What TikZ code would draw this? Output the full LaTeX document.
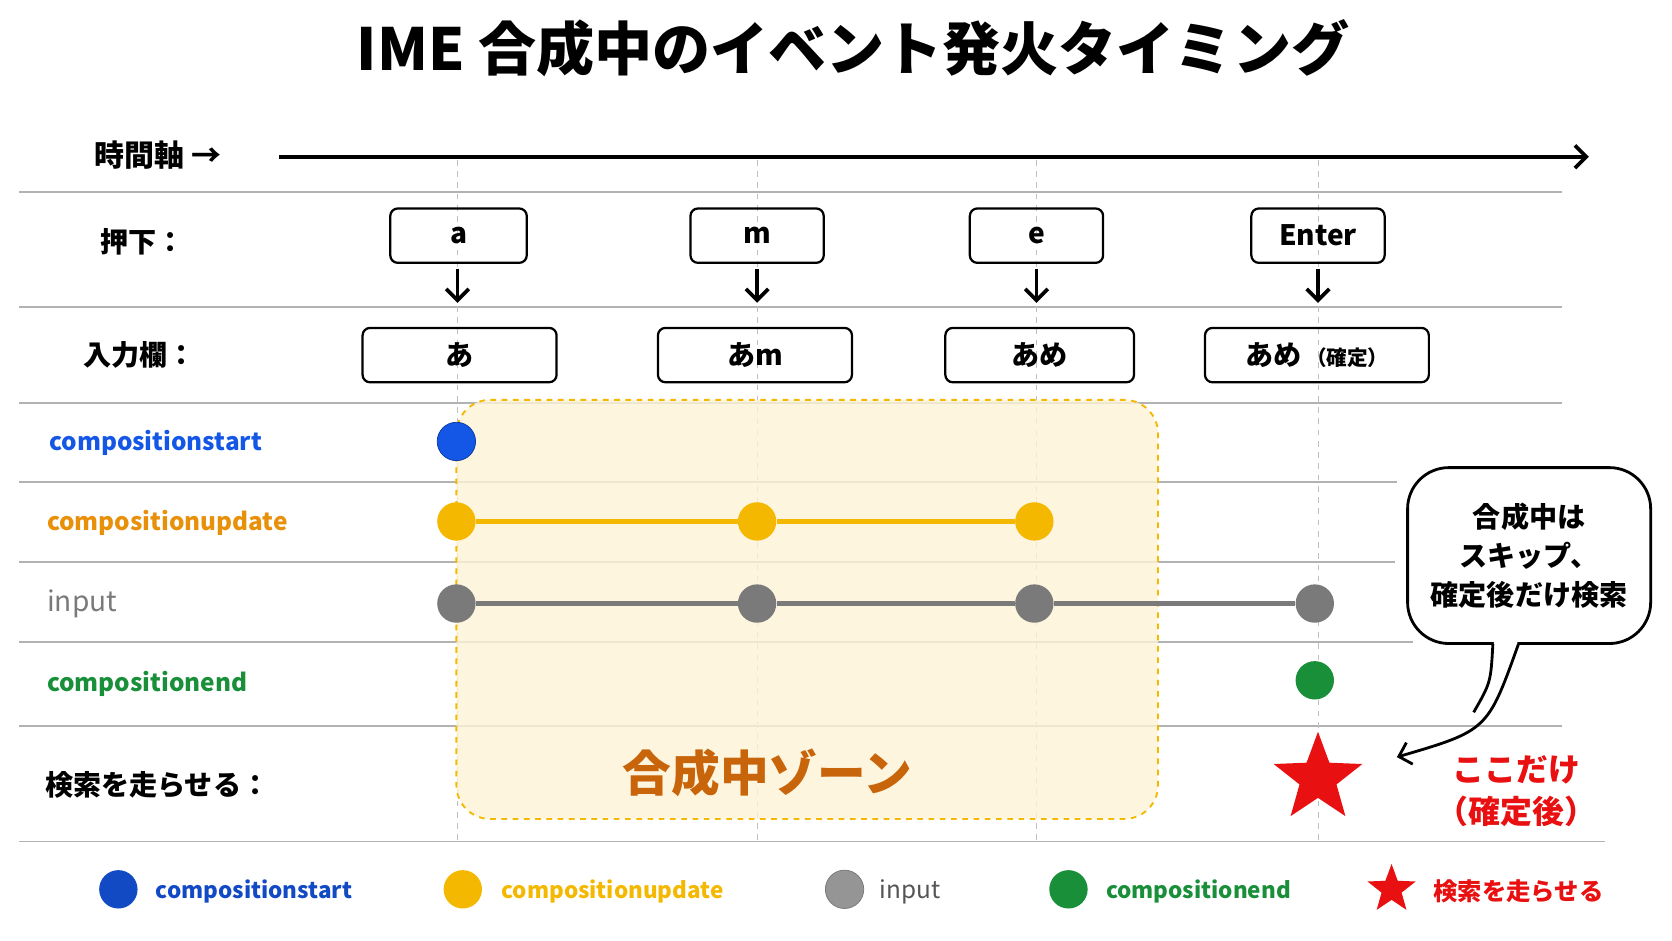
\documentclass[tikz,border=0pt]{standalone}
\usepackage{fontspec}
\setmainfont{Noto Sans CJK JP}
\usetikzlibrary{shapes.geometric,arrows.meta}
\definecolor{evblue}{HTML}{1457E6}
\definecolor{evorange}{HTML}{F5B800}
\definecolor{evtext}{HTML}{E8900A}
\definecolor{evgray}{HTML}{7A7A7A}
\definecolor{evgreen}{HTML}{1A8F3A}
\definecolor{evred}{HTML}{E81010}
\definecolor{zonefill}{HTML}{FDF3D6}
\definecolor{zonetext}{HTML}{C8640A}
\tikzset{
  rowline/.style={gray!60, line width=0.8pt},
  colline/.style={gray!50, dashed, line width=0.5pt},
  keybox/.style={draw, rounded corners=4pt, line width=1.2pt, minimum width=2.5cm, minimum height=1.02cm, font=\fontsize{15}{15}\selectfont\bfseries},
  fieldbox/.style={draw, rounded corners=4pt, line width=1.2pt, minimum height=1.02cm, font=\fontsize{15}{15}\selectfont\bfseries},
  rowlabel/.style={anchor=west, font=\fontsize{15}{15}\selectfont\bfseries},
  evdot/.style={circle, minimum size=0.72cm, inner sep=0pt},
  legtext/.style={anchor=west, font=\fontsize{12}{12}\selectfont\bfseries},
  redstar/.style={star, star points=5, star point ratio=2.4, fill=evred, inner sep=0pt}
}
\begin{document}
\begin{tikzpicture}[x=0.02cm, y=-0.02cm]
  \useasboundingbox (0,0) rectangle (1568,882);
  % title and time axis
  \node[font=\fontsize{31}{31}\selectfont\bfseries] (title) at (800,45) {IME 合成中のイベント発火タイミング};
  \node[font=\fontsize{16}{16}\selectfont\bfseries] (axis) at (148,145) {時間軸 →};
  \coordinate (axs) at (262,147);
  \coordinate (axe) at (1490,147);
  \draw[-{Straight Barb[length=6pt,width=12pt]}, line width=2pt] (axs) -- (axe);
  % grid
  \draw[rowline] (18,180) -- (1465,180);
  \draw[rowline] (18,288) -- (1465,288);
  \draw[rowline] (18,378) -- (1465,378);
  \draw[rowline] (18,452) -- (1310,452);
  \draw[rowline] (18,527) -- (1308,527);
  \draw[rowline] (18,602) -- (1325,602);
  \draw[rowline] (18,681) -- (1465,681);
  \draw[rowline] (18,789) -- (1505,789);
  \foreach \x in {429,710,972,1236}
    \draw[colline] (\x,150) -- (\x,790);
  % composition zone
  \draw[evorange, dashed, fill=zonefill, line width=1pt, rounded corners=18pt, fill opacity=0.8] (428,375) rectangle (1086,768);
  \node[font=\fontsize{26}{26}\selectfont\bfseries, text=zonetext] (zone) at (720,725) {合成中ゾーン};
  % row labels
  \node[rowlabel] (press) at (88,227) {押下：};
  \node[rowlabel] (field) at (72,333) {入力欄：};
  \node[rowlabel, text=evblue, font=\fontsize{13}{13}\selectfont\bfseries] (lstart) at (40,415) {compositionstart};
  \node[rowlabel, text=evtext, font=\fontsize{13}{13}\selectfont\bfseries] (lupd) at (38,490) {compositionupdate};
  \node[rowlabel, text=evgray, font=\fontsize{15}{15}\selectfont] (linp) at (38,566) {input};
  \node[rowlabel, text=evgreen, font=\fontsize{13}{13}\selectfont\bfseries] (lend) at (38,641) {compositionend};
  \node[rowlabel] (lsearch) at (36,736) {検索を走らせる：};
  % keys and fields
  \node[keybox, minimum width=2.56cm] (ka) at (430,221) {a};
  \node[keybox] (km) at (710,221) {m};
  \node[keybox] (ke) at (972,221) {e};
  \node[keybox] (kent) at (1236,221) {Enter};
  \node[fieldbox, minimum width=3.64cm] (fa) at (431,333) {あ};
  \node[fieldbox, minimum width=3.64cm] (fam) at (708,333) {あm};
  \node[fieldbox, minimum width=3.54cm] (fame) at (975,333) {あめ};
  \node[fieldbox, minimum width=4.2cm] (ffix) at (1235,333) {あめ\,{\fontsize{11}{11}\selectfont（確定）}};
  \foreach \k/\x in {ka/429,km/710,ke/972,kent/1236}
    \draw[-{Straight Barb[length=6pt,width=12pt]}, line width=2pt] (\x,252) -- (\x,284);
  % events
  \node[evdot, fill=evblue, draw=evblue!70!black] (s1) at (428,414) {};
  \node[evdot, fill=evorange] (u1) at (428,489) {};
  \node[evdot, fill=evorange] (u2) at (710,489) {};
  \node[evdot, fill=evorange] (u3) at (970,489) {};
  \draw[evorange, line width=2.5pt] (u1) -- (u2) -- (u3);
  \node[evdot, fill=evgray] (i1) at (428,566) {};
  \node[evdot, fill=evgray] (i2) at (710,566) {};
  \node[evdot, fill=evgray] (i3) at (970,566) {};
  \node[evdot, fill=evgray] (i4) at (1233,566) {};
  \draw[evgray, line width=2.5pt] (i1) -- (i2) -- (i3) -- (i4);
  \node[evdot, fill=evgreen] (e1) at (1233,638) {};
  \node[redstar, minimum size=1.75cm] (hit) at (1236,730) {};
  % callout
  \node[draw, line width=1.5pt, rounded corners=22pt, minimum width=4.56cm, minimum height=3.3cm, align=center, font=\fontsize{15}{21}\selectfont\bfseries] (note) at (1434,521) {合成中は\\スキップ、\\確定後だけ検索};
  \coordinate (tailL) at (1400,604);
  \coordinate (tailR) at (1424,604);
  \coordinate (tip) at (1310,710);
  \fill[white] (1401,596) -- (1423,596) -- (1423,608) -- (1390,660) -- (1401,608) -- cycle;
  \draw[line width=1.5pt] (tailL) .. controls (1398,640) .. (1382,668);
  \draw[-{Straight Barb[length=6pt,width=12pt]}, line width=1.5pt] (tailR) .. controls (1395,685) .. (tip);
  \node[text=evred, align=center, font=\fontsize{17}{22}\selectfont\bfseries] (here) at (1422,742) {ここだけ\\（確定後）};
  % legend
  \node[evdot, fill=evblue!85!black] (g1) at (111,834) {};
  \node[legtext, text=evblue!85!black] (t1) at (140,836) {compositionstart};
  \node[evdot, fill=evorange] (g2) at (434,834) {};
  \node[legtext, text=evorange] (t2) at (464,836) {compositionupdate};
  \node[evdot, fill=evgray!80, draw=evgray] (g3) at (792,834) {};
  \node[legtext, text=evgray!70!black, font=\fontsize{13}{13}\selectfont] (t3) at (819,836) {input};
  \node[evdot, fill=evgreen] (g4) at (1002,834) {};
  \node[legtext, text=evgreen] (t4) at (1031,836) {compositionend};
  \node[redstar, minimum size=0.95cm] (g5) at (1305,834) {};
  \node[legtext, text=evred, font=\fontsize{13}{13}\selectfont\bfseries] (t5) at (1338,836) {検索を走らせる};
\end{tikzpicture}
\end{document}
